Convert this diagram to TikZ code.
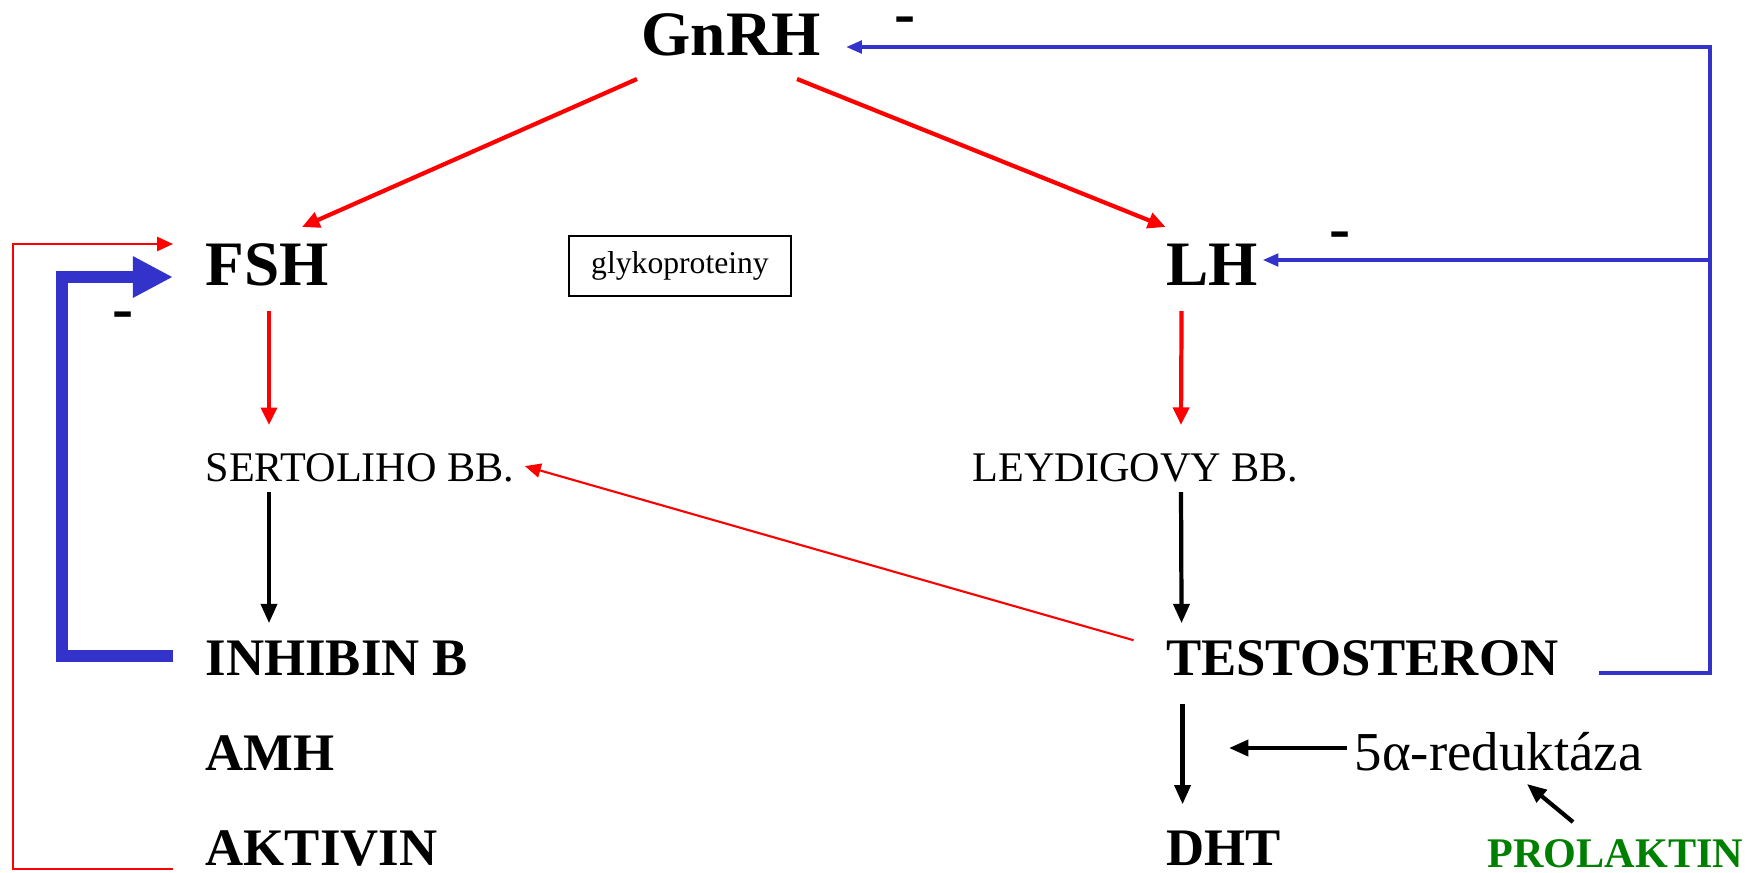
\documentclass[tikz,border=0pt]{standalone}
\usepackage{fontspec}
\setmainfont{Liberation Serif}
\usetikzlibrary{positioning}
\usetikzlibrary{arrows.meta}
\definecolor{fbblue}{RGB}{51,51,204}
\definecolor{prlgreen}{RGB}{0,128,0}

\begin{document}
\begin{tikzpicture}[x=0.01cm, y=-0.01cm,
        bigname/.style={inner sep=0pt, font=\fontsize{18}{20}\selectfont\bfseries},
        hormone/.style={inner sep=0pt, font=\fontsize{15}{18}\selectfont\bfseries},
        cell/.style={inner sep=0pt, font=\fontsize{12}{14}\selectfont},
        sign/.style={inner sep=0pt, font=\fontsize{18}{20}\selectfont\bfseries},
        stim/.style={draw=red, line width=1.2pt, -{Triangle[length=5pt, width=4.5pt]}},
        thinstim/.style={draw=red, line width=0.6pt, -{Triangle[length=4.5pt, width=4pt]}},
        conv/.style={draw=black, line width=1.2pt, -{Triangle[length=5.5pt, width=4.5pt]}},
        inhib/.style={draw=fbblue, line width=1.1pt, -{Triangle[length=4.5pt, width=3.5pt]}},
        thickinhib/.style={draw=fbblue, line width=3.3pt, -{Triangle[length=11.4pt, width=11pt]}},
        ]

        \useasboundingbox (0,0) rectangle (1755,872);

        \node (gnrh) [bigname, anchor=base west] at (641,55) {GnRH};
        \node (fsh) [bigname, anchor=base west] at (205,285) {FSH};
        \node (lh) [right=9.6cm of fsh.base west, anchor=base west, bigname] {LH};

        \node (sertoli) [below=1.96cm of fsh.base west, anchor=base west, cell] {SERTOLIHO BB.};
        \node (leydig) [cell, anchor=base west] at (972,481) {LEYDIGOVY BB.};

        \node (inhibin) [below=1.94cm of sertoli.base west, anchor=base west, hormone] {INHIBIN B};
        \node (amh) [below=0.95cm of inhibin.base west, anchor=base west, hormone] {AMH};
        \node (aktivin) [below=0.95cm of amh.base west, anchor=base west, hormone] {AKTIVIN};

        \node (testo) [below=3.9cm of lh.base west, anchor=base west, hormone] {TESTOSTERON};
        \node (dht) [below=1.9cm of testo.base west, anchor=base west, hormone] {DHT};
        \node (redukt) [anchor=base west, inner sep=0pt,
                        font=\fontsize{15.6}{18}\selectfont] at (1354,770) {5α-reduktáza};
        \node (prolaktin) [anchor=base west, inner sep=0pt, text=prlgreen,
                           font=\fontsize{12}{14}\selectfont\bfseries] at (1487,867) {PROLAKTIN};

        \node (glyko) [draw=black, line width=0.6pt,
                       minimum width=2.22cm, minimum height=0.6cm,
                       font=\fontsize{9}{11}\selectfont] at (680,266) {glykoproteiny};

        \node (minusgnrh) [sign, anchor=base west] at (894,34) {-};
        \node (minuslh) [sign, anchor=base west] at (1329,249) {-};
        \node (minusfsh) [sign, anchor=base west] at (112,329) {-};

        % hypofyza
        \draw [stim] ([shift={(-4,24)}]gnrh.base west) -- ([shift={(97,-58)}]fsh.base west);
        \draw [stim] ([shift={(156,24)}]gnrh.base west) -- ([shift={(0,-58)}]lh.base west);
        \draw [stim] ([shift={(64,26)}]fsh.base west) -- ([shift={(64,-56)}]sertoli.base west);
        \draw [stim] ([shift={(16,26)}]lh.base west) -- ([shift={(209,-56)}]leydig.base west);

        % varlata
        \draw [conv] ([shift={(64,11)}]sertoli.base west) -- ([shift={(64,-52)}]inhibin.base west);
        \draw [conv] ([shift={(209,11)}]leydig.base west) -- ([shift={(16,-52)}]testo.base west);
        \draw [conv] ([shift={(17,29)}]testo.base west) -- ([shift={(17,-61)}]dht.base west);
        \draw [conv] ([shift={(-7,-22)}]redukt.base west) -- ++(-118,0);
        \draw [conv] ([shift={(86,-45)}]prolaktin.base west) -- ([shift={(173,14)}]redukt.base west);
        \draw [thinstim] ([shift={(-32,-35)}]testo.base west) -- ([shift={(10,-15)}]sertoli.base east);

        % zpetne vazby
        \draw [inhib] ([shift={(433,-2)}]testo.base west) -- ++(111,0) |- ([shift={(205,-8)}]gnrh.base west);
        \draw [inhib] ([shift={(544,-25)}]lh.base west) -- ([shift={(97,-25)}]lh.base west);
        \draw [thickinhib] ([shift={(-32,-19)}]inhibin.base west) -- ++(-111,0) |- ([shift={(-32,-8)}]fsh.base west);
        \draw [thinstim] ([shift={(-32,4)}]aktivin.base west) -- ++(-160,0) |- ([shift={(-32,-41)}]fsh.base west);

\end{tikzpicture}
\end{document}
